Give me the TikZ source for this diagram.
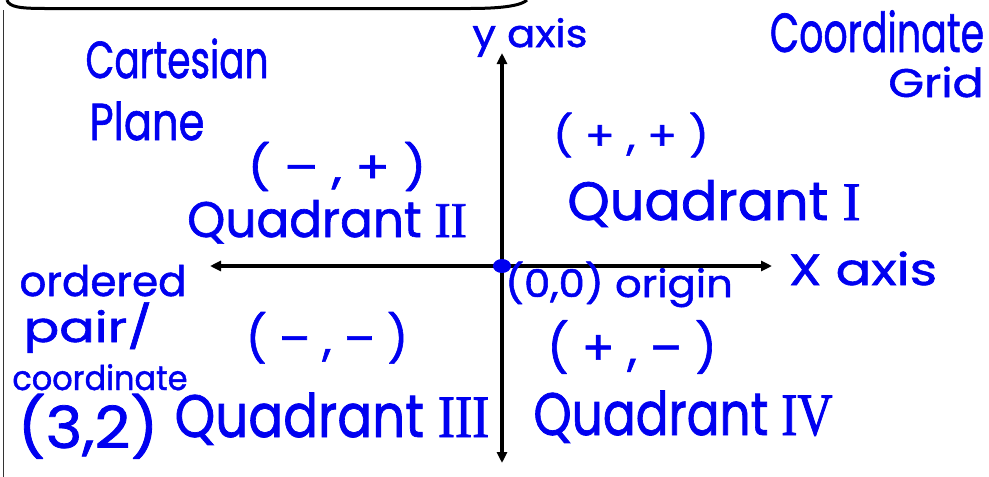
\documentclass[tikz,border=0pt]{standalone}
\usepackage{fontspec}
\usetikzlibrary{arrows.meta}
\newfontfamily\handfont{Poppins}[FakeBold=1.3]
\newfontfamily\romfont{Liberation Serif}[FakeBold=1.6]
\definecolor{handblue}{RGB}{0,0,240}

\begin{document}
\begin{tikzpicture}[x=1pt, y=1pt,
    hw/.style={text=handblue, inner sep=0pt, anchor=base},
    fs/.style={font=\handfont\fontsize{#1}{#1}\selectfont},
    axisline/.style={line width=3.5pt, {Triangle[length=11pt,width=10pt]}-{Triangle[length=11pt,width=10pt]}}]
\useasboundingbox (0,0) rectangle (989,-477);

% --- PAGE FRAME ---
\draw[line width=3pt] (7,0) .. controls (9,-7) and (20,-8.5) .. (45,-8.5) -- (470,-8.5) .. controls (505,-8.5) and (522,-5) .. (527,0);
\draw[line width=1pt, black!80] (3,-10) -- (3,-477);

% --- AXES ---
\coordinate (xl) at (210,-266);
\coordinate (xr) at (772,-266);
\coordinate (yt) at (502,-53);
\coordinate (yb) at (502,-463);
\coordinate (O) at (502,-266);
\draw[axisline] (xl) -- (xr);
\draw[axisline] (yt) -- (yb);
\fill[handblue] (O) ellipse (9 and 7);

% --- TITLES ---
\node[hw, fs=52, xscale=.72] (cartesian) at (177,-78) {Cartesian};
\node[hw, fs=52, xscale=.8] (plane) at (147,-140) {Plane};
\node[hw, fs=55, xscale=.69] (coordinate) at (877,-52) {Coordinate};
\node[hw, fs=40, xscale=1.15] (grid) at (936,-97) {Grid};

% --- AXIS LABELS ---
\node[hw, fs=38, xscale=1.1] (ylabel) at (530,-47) {y axis};
\node[hw, fs=44, xscale=1.2] (xlabel) at (863,-285) {X axis};
\node[hw, fs=38, xscale=1.1] (origin) at (619,-297) {(0,0) origin};

% --- QUADRANTS ---
\node[hw, fs=40, xscale=1.1] (pp) at (631,-150) {( + , + )};
\node[hw, fs=54] (q1) at (714,-220) {Quadrant {\romfont I}};
\node[hw, fs=44, xscale=1.15] (mp) at (337,-183) {( – , + )};
\node[hw, fs=50, xscale=.97] (q2) at (327,-237) {Quadrant {\romfont II}};
\node[hw, fs=46] (mm) at (327,-355) {( – , – )};
\node[hw, fs=60, xscale=.86] (q3) at (332,-437) {Quadrant {\romfont III}};
\node[hw, fs=48] (pm) at (632,-365) {( + , – )};
\node[hw, fs=60, xscale=.81] (q4) at (683,-435) {Quadrant {\romfont IV}};

% --- ORDERED PAIR ---
\node[hw, fs=42] (ordered) at (103,-296) {ordered};
\node[hw, fs=42, xscale=1.25] (pair) at (88,-342) {pair/};
\node[hw, fs=34, xscale=.94] (coordword) at (100,-390) {coordinate};
\node[hw, fs=58, xscale=1.07] (example) at (88,-448) {(3,2)};
\end{tikzpicture}
\end{document}
